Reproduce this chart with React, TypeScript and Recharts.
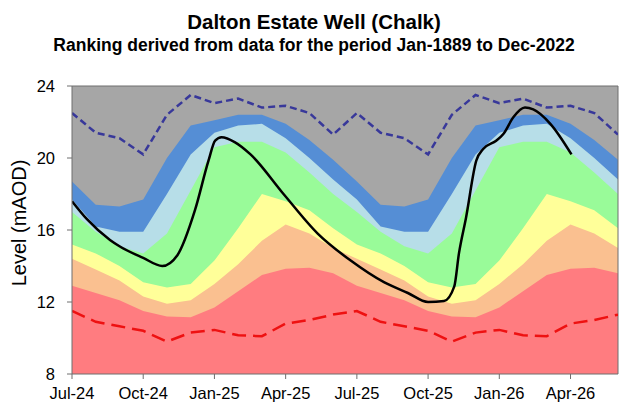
import {
  ComposedChart,
  Area,
  Line,
  XAxis,
  YAxis,
  CartesianGrid,
  ReferenceLine,
} from "recharts";

// months counted from Jul-24 (0) to Jun-26 (23)
const monthTicks = [0, 3, 6, 9, 12, 15, 18, 21];
const monthLabels = ["Jul-24", "Oct-24", "Jan-25", "Apr-25", "Jul-25", "Oct-25", "Jan-26", "Apr-26"];
const levelTicks = [8, 12, 16, 20, 24];

// upper edge of each ranking band, monthly (mAOD)
const blueTop = [18.7, 17.4, 17.3, 17.7, 20.0, 21.8, 22.1, 22.4, 22.4, 21.9, 21.0, 19.9, 18.7, 17.4, 17.3, 17.7, 20.0, 21.8, 22.1, 22.4, 22.4, 21.9, 21.0, 19.9];
const lightBlueTop = [17.7, 16.2, 15.9, 15.9, 18.0, 20.2, 21.4, 21.8, 21.9, 21.1, 20.0, 18.8, 17.7, 16.2, 15.9, 15.9, 18.0, 20.2, 21.4, 21.8, 21.9, 21.1, 20.0, 18.8];
const greenTop = [17.0, 15.9, 15.1, 14.7, 15.8, 18.2, 20.6, 20.9, 20.9, 20.3, 19.2, 18.0, 17.0, 15.9, 15.1, 14.7, 15.8, 18.2, 20.6, 20.9, 20.9, 20.3, 19.2, 18.0];
const yellowTop = [15.2, 14.7, 14.0, 13.1, 12.8, 13.0, 14.3, 16.1, 18.0, 17.6, 17.1, 16.1, 15.2, 14.7, 14.0, 13.1, 12.8, 13.0, 14.3, 16.1, 18.0, 17.6, 17.1, 16.1];
const orangeTop = [14.4, 13.8, 13.2, 12.3, 11.9, 12.1, 13.0, 14.1, 15.4, 16.3, 15.8, 15.0, 14.4, 13.8, 13.2, 12.3, 11.9, 12.1, 13.0, 14.1, 15.4, 16.3, 15.8, 15.0];
const redTop = [12.9, 12.5, 12.1, 11.5, 11.2, 11.15, 11.7, 12.6, 13.5, 13.85, 13.9, 13.6, 12.9, 12.5, 12.1, 11.5, 11.2, 11.15, 11.7, 12.6, 13.5, 13.85, 13.9, 13.6];

// record max / min
const maxLevel = [22.5, 21.4, 21.1, 20.2, 22.4, 23.5, 23.05, 23.3, 22.8, 22.9, 22.5, 21.3, 22.5, 21.4, 21.1, 20.2, 22.4, 23.5, 23.05, 23.3, 22.8, 22.9, 22.5, 21.3];
const minLevel = [11.5, 10.9, 10.65, 10.4, 9.8, 10.3, 10.45, 10.15, 10.1, 10.8, 11.0, 11.3, 11.5, 10.9, 10.65, 10.4, 9.8, 10.3, 10.45, 10.15, 10.1, 10.8, 11.0, 11.3];

// observed level
const actualMonth = [0, 0.63, 1.6, 2, 3, 3.8, 4.44, 5.18, 5.75, 6.03, 6.3, 6.87, 7.52, 8.91, 10.35, 11.74, 13.14, 14.15, 15.0, 15.67, 16.1, 16.3, 16.6, 17.03, 17.32, 17.87, 18.17, 18.59, 19.08, 19.43, 20.15, 21.04];
const actualLevel = [17.6, 16.6, 15.45, 15.1, 14.45, 14.0, 14.6, 17.1, 19.85, 20.96, 21.15, 20.87, 20.2, 18.0, 15.8, 14.3, 13.1, 12.5, 12.0, 12.05, 12.85, 14.7, 16.7, 19.85, 20.5, 20.96, 21.33, 22.26, 22.8, 22.7, 21.9, 20.2];

const bandData = blueTop.map((v, i) => ({
  m: i,
  blue: v,
  lightBlue: lightBlueTop[i],
  green: greenTop[i],
  yellow: yellowTop[i],
  orange: orangeTop[i],
  red: redTop[i],
  max: maxLevel[i],
  min: minLevel[i],
}));

const actualData = actualMonth.map((m, i) => ({ m, level: actualLevel[i] }));

const font = "'Liberation Sans', Arial, sans-serif";

const bands = [
  { key: "blue", color: "#558ed5" },
  { key: "lightBlue", color: "#b7dee8" },
  { key: "green", color: "#99fb99" },
  { key: "yellow", color: "#ffff99" },
  { key: "orange", color: "#fac090" },
  { key: "red", color: "#ff7c80" },
];

export default function App() {
  return (
    <div style={{ position: "absolute", left: 0, top: 0, width: 621, height: 405, background: "#fff", fontFamily: font }}>
      <ComposedChart width={621} height={405} data={bandData} margin={{ top: 86, right: 3, bottom: 0, left: 0 }}>
        <CartesianGrid fill="#a6a6a6" horizontal={false} vertical={false} />
        <XAxis
          dataKey="m"
          type="number"
          domain={[0, 23]}
          ticks={monthTicks}
          tickFormatter={(v) => monthLabels[monthTicks.indexOf(v)]}
          allowDataOverflow
          height={31}
          tickSize={5}
          tickMargin={8}
          stroke="#6e6e6e"
          tick={{ fill: "#000", fontSize: 16.5, fontFamily: font }}
        />
        <YAxis
          type="number"
          domain={[8, 24]}
          ticks={levelTicks}
          allowDataOverflow
          width={72}
          tickSize={5}
          tickMargin={12}
          stroke="#6e6e6e"
          tick={{ fill: "#000", fontSize: 16.5, fontFamily: font }}
        />
        {bands.map((b) => (
          <Area
            key={b.key}
            dataKey={b.key}
            type="linear"
            stroke="none"
            fill={b.color}
            fillOpacity={1}
            baseValue={8}
            dot={false}
            activeDot={false}
            isAnimationActive={false}
          />
        ))}
        <ReferenceLine y={24} stroke="#6e6e6e" />
        <ReferenceLine x={23} stroke="#6e6e6e" />
        <Line dataKey="max" type="linear" stroke="#38389a" strokeWidth={2.5} strokeDasharray="7 4" dot={false} activeDot={false} isAnimationActive={false} />
        <Line dataKey="min" type="linear" stroke="#ee1111" strokeWidth={2.5} strokeDasharray="14 7" dot={false} activeDot={false} isAnimationActive={false} />
        <Line data={actualData} dataKey="level" type="monotone" stroke="#000" strokeWidth={2.5} dot={false} activeDot={false} isAnimationActive={false} />
      </ComposedChart>
      <svg width={621} height={405} style={{ position: "absolute", left: 0, top: 0, pointerEvents: "none" }}>
        <text x={314} y={29} textAnchor="middle" fontSize={20.5} fontWeight="bold" fontFamily={font} fill="#000">
          Dalton Estate Well (Chalk)
        </text>
        <text x={314} y={51} textAnchor="middle" fontSize={17.5} fontWeight="bold" fontFamily={font} fill="#000">
          Ranking derived from data for the period Jan-1889 to Dec-2022
        </text>
        <text transform="translate(26,223) rotate(-90)" textAnchor="middle" fontSize={20} fontFamily={font} fill="#000">
          Level (mAOD)
        </text>
      </svg>
    </div>
  );
}
